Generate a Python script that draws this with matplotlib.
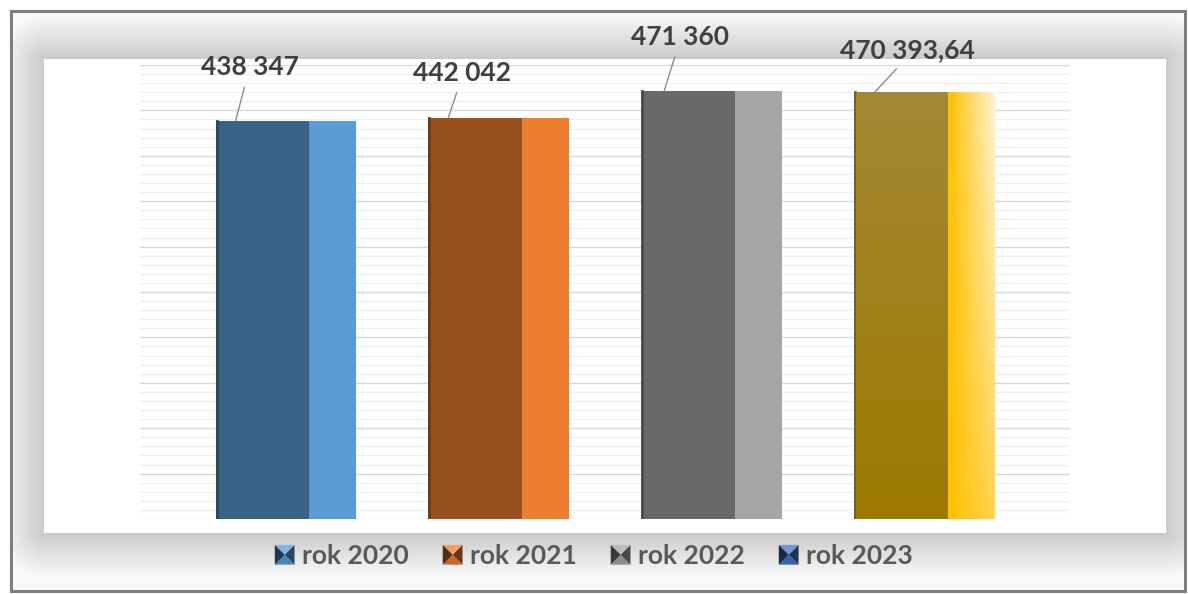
import numpy as np
import matplotlib
matplotlib.use("Agg")
import matplotlib.pyplot as plt
from matplotlib.patches import Rectangle, Patch, Polygon
from matplotlib.legend_handler import HandlerPatch
from matplotlib.colors import to_rgb

# data
years = ["rok 2020", "rok 2021", "rok 2022", "rok 2023"]
values = [438347, 442042, 471360, 470393.64]
value_labels = ["438 347", "442 042", "471 360", "470 393,64"]

dark_cols = ["#3A6186", "#97501E", "#696969", "#A08530"]
light_cols = ["#5B9BD5", "#ED7D31", "#A5A5A5", "#FFC000"]
legend_cols = ["#5B9BD5", "#ED7D31", "#A5A5A5", "#4472C4"]
# label placement in pixels (leader end from bar left edge, text dx, text dy)
lbl_pos = [(20, 14, 54), (20, 14, 45), (23, 16, 54), (21, 32, 42)]

plt.rcParams['font.family'] = ['Lato', 'DejaVu Sans']

W, H = 1188, 594
fig = plt.figure(figsize=(W / 100, H / 100), dpi=100)

# bevelled frame background
bg = fig.add_axes([0, 0, 1, 1])
bg.set_xlim(0, W)
bg.set_ylim(H, 0)
bg.axis("off")
yy, xx = np.mgrid[0:H, 0:W] + 0.5
L, R, T, B = 44, 1166, 59, 533
dx = np.maximum.reduce([L - xx, np.zeros_like(xx), xx - R])
dy = np.maximum.reduce([T - yy, np.zeros_like(yy), yy - B])
d = np.sqrt(dx ** 2 + dy ** 2)
v = 0.79 + 0.19 * np.clip(d / 45.0, 0, 1)
outside = (xx < 11) | (xx > 1185) | (yy < 11) | (yy > 591)
v[outside] = 1.0
bg.imshow(v, cmap="gray", vmin=0, vmax=1, extent=(0, W, H, 0), interpolation="bilinear")
bg.add_patch(Rectangle((11, 11), 1174, 580, fill=False, edgecolor="#7f7f7f", lw=2.2))
bg.add_patch(Rectangle((L, T), R - L, B - T, facecolor="white", edgecolor="none"))

# main chart
ax = fig.add_axes([140 / W, (H - 519) / H, (1070 - 140) / W, (519 - 65) / H])
ax.set_facecolor("none")
x = np.arange(len(years))
w = 0.66
x0, x1 = -0.685, 3.685
px = (x1 - x0) / 930.0  # data units per pixel
ax.set_xlim(x0, x1)
ax.set_ylim(0, 500000)
ax.set_yticks(np.arange(0, 500001, 50000))
ax.set_yticks(np.arange(0, 500001, 10000), minor=True)
ax.grid(axis="y", which="major", color="#d9d9d9", lw=1.0)
ax.grid(axis="y", which="minor", color="#f0f0f0", lw=1.0)
ax.set_axisbelow(True)
ax.tick_params(left=False, bottom=False, which="both", labelleft=False, labelbottom=False)
for s in ax.spines.values():
    s.set_visible(False)

dark_bars = ax.bar(x - w / 6, values, width=2 * w / 3, color=dark_cols, edgecolor="none")
light_bars = ax.bar(x + w / 3, values, width=w / 3, color=light_cols, edgecolor="none")

# subtle darker edge on left side of each bar
for xi, val, c in zip(x, values, dark_cols):
    ax.plot([xi - w / 2 + px, xi - w / 2 + px], [0, val], color=np.array(to_rgb(c)) * 0.72, lw=2)

# gold gradient for 2023
i = 3
g_top, g_bot = np.array(to_rgb("#A48935")), np.array(to_rgb("#9D7900"))
t = np.linspace(0, 1, 100)[:, None, None]
grad = g_top * (1 - t) + g_bot * t
grad = np.repeat(grad, 2, axis=1)
im = ax.imshow(grad, extent=(x[i] - w / 2 + 2 * px, x[i] + w / 6, 0, values[i]), aspect="auto", zorder=2.5)
im.set_clip_path(dark_bars[i])
hx = np.linspace(0, 1, 60)[None, :, None]
vt = np.linspace(1, 0, 100)[:, None, None]
gold = np.array(to_rgb("#FFC000"))
white = np.array([1.0, 0.97, 0.88])
mix = np.clip(hx * (0.35 + 0.6 * vt), 0, 1)
grad2 = gold * (1 - mix) + white * mix
im2 = ax.imshow(grad2, extent=(x[i] + w / 6, x[i] + w / 2, 0, values[i]), aspect="auto", zorder=2.5)
im2.set_clip_path(light_bars[i])

for xi, val, lbl, (ex, tx, ty) in zip(x, values, value_labels, lbl_pos):
    ax.annotate(lbl, xy=(xi - w / 2 + ex * px, val), xytext=(tx, ty), textcoords="offset pixels",
                ha="center", va="center", fontsize=19, fontweight="bold", color="#404040",
                annotation_clip=False,
                arrowprops=dict(arrowstyle="-", color="#8c8c8c", lw=1.0, shrinkA=4, shrinkB=0,
                                relpos=(0.47, 0.0)))


class BowTieHandler(HandlerPatch):
    def create_artists(self, legend, orig_handle, xdescent, ydescent, width, height, fontsize, trans):
        c = np.array(to_rgb(orig_handle.get_facecolor()))
        s = min(width, height) * 1.05
        x0 = xdescent * -1 + (width - s) / 2
        y0 = -ydescent + (height - s) / 2
        cx, cy = x0 + s / 2, y0 + s / 2
        corners = [(x0, y0), (x0 + s, y0), (x0 + s, y0 + s), (x0, y0 + s)]
        shades = [c * 0.85, np.clip(c * 0.45, 0, 1), np.clip(c + (1 - c) * 0.25, 0, 1),
                  np.clip(c * 0.35, 0, 1)]
        arts = []
        for k in range(4):
            p = Polygon([corners[k], corners[(k + 1) % 4], (cx, cy)], closed=True,
                        facecolor=shades[k], edgecolor="none", transform=trans)
            arts.append(p)
        return arts


handles = [Patch(facecolor=c) for c in legend_cols]
fig.legend(handles, years, loc="center", bbox_to_anchor=(0.5, (H - 556) / H), ncol=4,
           frameon=False, prop=dict(size=19, weight="bold"), labelcolor="#595959",
           handlelength=0.72, handleheight=0.72, handletextpad=0.3, columnspacing=1.3,
           handler_map={Patch: BowTieHandler()})

fig.savefig("out.png", dpi=100)
